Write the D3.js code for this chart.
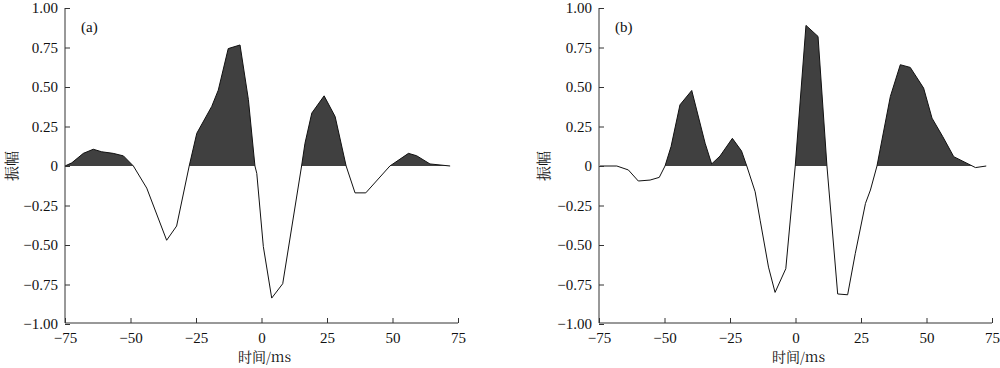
<!DOCTYPE html>
<html><head><meta charset="utf-8">
<script src="https://cdn.jsdelivr.net/npm/d3@7"></script>
<style>body{margin:0;background:#fff}svg{display:block}
.sf{font-family:"Liberation Serif","Tinos","Times New Roman","Nimbus Roman","DejaVu Serif",serif}
.cj{font-family:"Noto Serif CJK SC","Noto Sans CJK SC","Noto Sans",sans-serif}
</style>
</head><body>
<svg id="c" width="1000" height="368"></svg>
<script>
const xTicks = [-75, -50, -25, 0, 25, 50, 75];
const yTicks = [1.00, 0.75, 0.50, 0.25, 0, -0.25, -0.50, -0.75, -1.00];
const yTickLabels = ["1.00","0.75","0.50","0.25","0","\u22120.25","\u22120.50","\u22120.75","\u22121.00"];
const xTickLabels = ["\u221275","\u221250","\u221225","0","25","50","75"];
const panelNames = ["(a)", "(b)"];
const xTitle = "时间/ms";
const yTitle = "振幅";

const timeA = [-75,-72.4,-68,-64.2,-61,-56.6,-52.7,-48.9,-43.8,-36.2,-32.4,-27.6,-24.7,-19,-16.5,-12.7,-8.2,-5.0,-2.5,-1.8,0.7,3.9,8.1,15.3,16.6,19.2,23.9,28.1,32.3,35.7,39.8,49.0,56.1,59.2,64.3,72];
const ampA  = [0,0.02,0.08,0.106,0.09,0.08,0.064,0,-0.14,-0.47,-0.38,0,0.207,0.377,0.48,0.743,0.766,0.42,0,-0.047,-0.51,-0.836,-0.745,0,0.144,0.335,0.444,0.313,0,-0.17,-0.17,0,0.08,0.065,0.013,0];

const timeB = [-74.6,-68.2,-63.8,-60,-55.5,-52,-49.8,-47.5,-44.1,-39.6,-34.5,-32,-28.8,-24.1,-20.6,-18.6,-15.4,-13.5,-10.3,-7.8,-3.7,-0.1,4.0,8.6,12.0,16.1,19.9,22.8,26.7,28.6,31.1,33.0,36.2,40.0,43.8,48.9,52.1,56.2,60.4,68.7,72.8];
const ampB  = [0,0,-0.025,-0.095,-0.089,-0.072,0,0.123,0.387,0.478,0.144,0.013,0.063,0.175,0.095,0,-0.163,-0.343,-0.64,-0.80,-0.65,0,0.89,0.82,0,-0.81,-0.815,-0.555,-0.237,-0.152,0,0.165,0.44,0.641,0.624,0.493,0.303,0.186,0.059,-0.01,0];

const panels = [
  {t: timeA, v: ampA, left: 65, right: 458, ylab: 12},
  {t: timeB, v: ampB, left: 599, right: 992, ylab: 544}
];
const plotTop = 8, plotBottom = 324;
const svg = d3.select("#c");

panels.forEach((p, i) => {
  const x = d3.scaleLinear().domain([-75, 75]).range([p.left, p.right]);
  const y = d3.scaleLinear().domain([-1, 1]).range([plotBottom, plotTop]);
  const g = svg.append("g");
  const data = p.t.map((t, k) => ({t, v: p.v[k]}));

  const clipId = "clip" + i;
  svg.append("clipPath").attr("id", clipId).append("rect")
    .attr("x", p.left).attr("y", plotTop - 2).attr("width", p.right - p.left).attr("height", y(0) - plotTop + 2);

  g.append("path").datum(data)
    .attr("clip-path", `url(#${clipId})`)
    .attr("fill", "#404040")
    .attr("d", d3.area().x(d => x(d.t)).y0(y(0)).y1(d => y(d.v)));

  g.append("path").datum(data)
    .attr("fill", "none").attr("stroke", "#111").attr("stroke-width", 1)
    .attr("d", d3.line().x(d => x(d.t)).y(d => y(d.v)));

  const yAxis = d3.axisLeft(y).tickValues(yTicks).tickSize(-5).tickPadding(7)
    .tickFormat((d, k) => yTickLabels[k]);
  const ga = g.append("g").attr("transform", `translate(${p.left},0)`).call(yAxis);
  const xAxis = d3.axisBottom(x).tickValues(xTicks).tickSize(-5).tickPadding(9)
    .tickFormat((d, k) => xTickLabels[k]);
  const gb = g.append("g").attr("transform", `translate(0,${plotBottom - 1})`).call(xAxis);
  ga.select(".domain").attr("d", `M0,${plotTop}V${plotBottom - 1}`);
  gb.select(".domain").attr("d", `M${p.left},0H${p.right}`);
  [ga, gb].forEach(a => {
    a.attr("font-family", null).attr("font-size", null);
    a.select(".domain").attr("stroke", "#333");
    a.selectAll(".tick line").attr("stroke", "#333");
    a.selectAll("text").attr("class", "sf").attr("font-size", 15).attr("fill", "#111");
  });

  g.append("text").attr("class", "cj").attr("x", (p.left + p.right) / 2 + 3).attr("y", 362)
    .attr("text-anchor", "middle").attr("font-size", 14).attr("fill", "#111")
    .text(xTitle);
  g.append("text").attr("class", "cj").attr("transform", `translate(${p.ylab + 5},${y(0)}) rotate(-90)`)
    .attr("text-anchor", "middle").attr("font-size", 15).attr("fill", "#111")
    .text(yTitle);
  g.append("text").attr("class", "sf").attr("x", p.left + 16).attr("y", 32)
    .attr("font-size", 15).attr("fill", "#111").text(panelNames[i]);
});
</script>
</body></html>
